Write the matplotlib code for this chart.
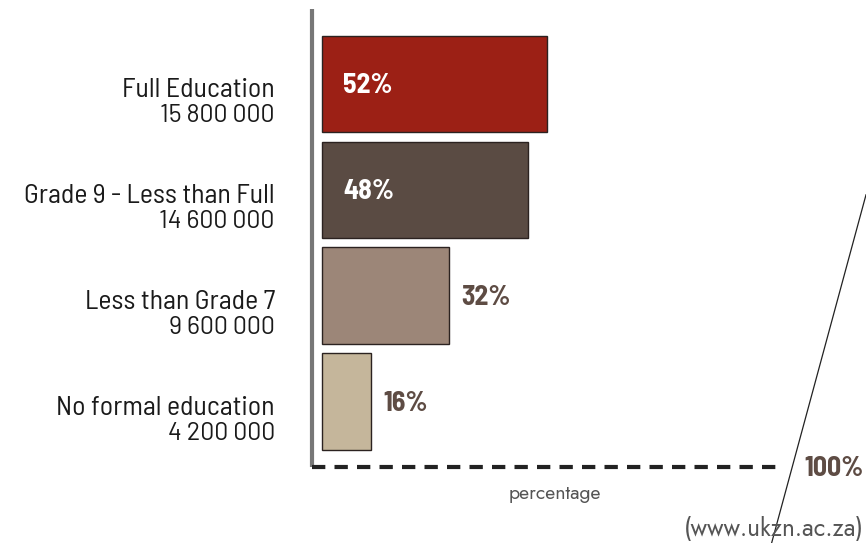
import matplotlib.pyplot as plt

# -----------------------------------------------------
# DATA
# -----------------------------------------------------
categories = ["Full Education", "Grade 9 - Less than Full",
              "Less than Grade 7", "No formal education"]
people = ["15 800 000", "14 600 000", "9 600 000", "4 200 000"]
share = [52, 48, 32, 16]

bar_colors = ["#9c2015", "#5a4b43", "#9c8678", "#c5b69b"]
text_brown = "#5e4c44"
label_font = ["Barlow Semi Condensed", "DejaVu Sans"]
num_font = ["Barlow", "DejaVu Sans"]
pct_font = ["Barlow Semi Condensed", "DejaVu Sans"]
note_font = ["Jost", "DejaVu Sans"]


# -----------------------------------------------------
# PLOT
# -----------------------------------------------------
def plot_education():
    fig = plt.figure(figsize=(8.66, 5.43), dpi=100)
    ax = fig.add_axes([0, 0, 1, 1])

    # x in percent: 0 sits left of the axis line, 100 at the dashed end
    ax.set_xlim(-59.9, 117.2)
    ax.set_ylim(4.335, -0.788)
    ax.axis("off")

    base = 6
    widths = [v - base for v in share]
    ax.barh(range(len(share)), widths, left=base, height=0.906,
            color=bar_colors, edgecolor="#2b2220", linewidth=1)

    # axis line and the dashed 100% line
    ax.plot([4, 4], [-0.7, 3.62], color="#777777", lw=3,
            solid_capstyle="butt")
    ax.plot([4, 100], [3.62, 3.62], color="#222222", lw=3,
            dashes=(3.2, 2.2))
    ax.text(104.6, 3.63, "100%", color=text_brown, fontsize=20,
            fontweight="bold", family=pct_font, va="center", ha="left")

    for i, (cat, n, v) in enumerate(zip(categories, people, share)):
        ax.text(-3.7, i + 0.13, cat, ha="right", va="baseline",
                fontsize=20, family=label_font, color="#1a1a1a")
        ax.text(-3.7, i + 0.36, n, ha="right", va="baseline",
                fontsize=18, family=num_font, color="#1a1a1a")
        if v > 40:
            ax.text(base + 4.3, i + 0.02, f"{v}%", color="white",
                    fontsize=20, fontweight="bold", family=pct_font,
                    va="center")
        else:
            ax.text(v + 2.4, i + 0.02, f"{v}%", color=text_brown,
                    fontsize=20, fontweight="bold", family=pct_font,
                    va="center")

    ax.text(53.6, 3.87, "percentage", color="#555555", fontsize=14,
            fontweight="light", family=note_font, ha="center", va="center")
    ax.text(116.8, 4.2, "(www.ukzn.ac.za)", color="#555555", fontsize=17.5,
            fontweight="light", family=note_font, ha="right", va="center")

    # thin diagonal stroke across the bottom right corner
    ax.plot([117.2, 97.9], [1.05, 4.335], color="#222222", lw=0.9)

    fig.savefig("out.png", dpi=100)


if __name__ == "__main__":
    plot_education()
